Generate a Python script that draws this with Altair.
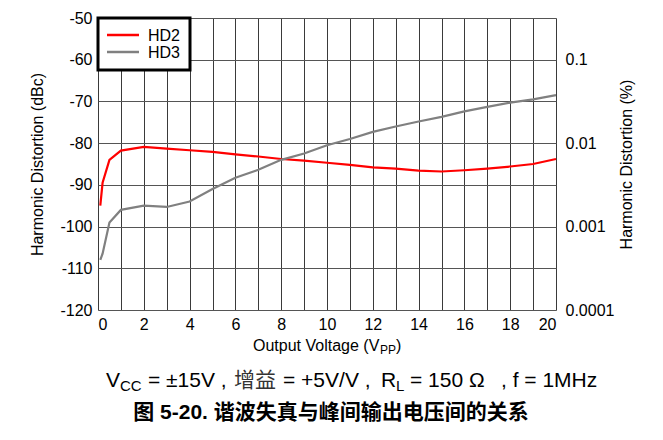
import altair as alt
import pandas as pd
import numpy as np

# ---- data ----
voltage = [0.1, 0.2, 0.5, 1, 2, 3, 4, 5, 6, 7, 8, 9, 10, 11, 12, 13, 14, 15, 16, 17, 18, 19, 20]
hd2 = [-95.0, -89.5, -84.0, -81.8, -80.9, -81.3, -81.7, -82.1, -82.7, -83.2, -83.8, -84.2,
       -84.7, -85.2, -85.8, -86.1, -86.6, -86.8, -86.5, -86.1, -85.6, -85.0, -83.8]
hd3 = [-108.0, -106.5, -99.0, -96.0, -95.0, -95.3, -94.0, -91.0, -88.3, -86.4, -84.0, -82.5,
       -80.5, -79.0, -77.3, -76.0, -74.8, -73.7, -72.4, -71.3, -70.3, -69.5, -68.5]
series = ["HD2", "HD3"]
colors = ["#ff0000", "#808080"]

x_ticks = list(range(0, 21))
y_ticks = list(range(-120, -49, 10))
pct_ticks = [0.0001, 0.001, 0.01, 0.1]
db_domain = [-120, -50]
pct_domain = [100 * 10 ** (db_domain[0] / 20), 100 * 10 ** (db_domain[1] / 20)]

LATIN = "Liberation Sans"
MIX = "Liberation Sans, Noto Sans CJK SC"

df = pd.DataFrame({
    "v": voltage * 2,
    "db": hd2 + hd3,
    "s": [series[0]] * len(voltage) + [series[1]] * len(voltage),
})
dummy = pd.DataFrame({"a": [0]})

lines = alt.Chart(df).mark_line(strokeWidth=2.2).encode(
    x=alt.X("v:Q", scale=alt.Scale(domain=[0, 20], nice=False),
            axis=alt.Axis(values=x_ticks, labelExpr="datum.value % 2 == 0 ? datum.label : ''",
                          title=None, grid=True, gridColor="#3a3a3a", gridWidth=1,
                          ticks=False, domain=False, labelFontSize=16, labelFont=LATIN,
                          labelColor="black", labelPadding=6)),
    y=alt.Y("db:Q", scale=alt.Scale(domain=db_domain, nice=False, zero=False),
            axis=alt.Axis(values=y_ticks, labelExpr="'' + datum.value",
                          title="Harmonic Distortion (dBc)", grid=True, gridColor="#555555",
                          gridWidth=1.2, ticks=False, domain=False, labelFontSize=16,
                          labelFont=LATIN, labelColor="black", labelPadding=6,
                          titleFont=LATIN, titleFontSize=16, titleFontWeight="normal",
                          titleColor="black", titleX=-61, titleY=146, titleAngle=270,
                          titleAlign="center", titleBaseline="middle")),
    color=alt.Color("s:N", scale=alt.Scale(domain=series, range=colors), legend=None),
    detail="s:N",
)

right = alt.Chart(pd.DataFrame({"pct": pct_ticks})).mark_point(opacity=0).encode(
    y=alt.Y("pct:Q", scale=alt.Scale(type="log", domain=pct_domain, nice=False),
            axis=alt.Axis(orient="right", values=pct_ticks, format=".4~f",
                          title="Harmonic Distortion (%)", grid=False, ticks=False,
                          domain=False, labelFontSize=16, labelFont=LATIN, labelColor="black",
                          labelPadding=9, titleFont=LATIN, titleFontSize=16,
                          titleFontWeight="normal", titleColor="black", titleX=70, titleY=146,
                          titleAngle=270, titleAlign="center", titleBaseline="middle")),
)

# legend box (drawn manually)
leg_box = alt.Chart(dummy).mark_rect(fill="white", stroke="black", strokeWidth=3).encode(
    x=alt.value(0), x2=alt.value(92), y=alt.value(0), y2=alt.value(52))
leg_layers = [leg_box]
for i, (name, col) in enumerate(zip(series, colors)):
    yy = 17 + 17 * i
    leg_layers.append(alt.Chart(dummy).mark_rule(color=col, strokeWidth=2.5).encode(
        x=alt.value(9), x2=alt.value(41), y=alt.value(yy)))
    leg_layers.append(alt.Chart(dummy).mark_text(text=name, align="left", baseline="middle",
                                                 fontSize=16, font=LATIN, color="black").encode(
        x=alt.value(50), y=alt.value(yy + 1)))


def txt(t, x, y, size=16, font=LATIN, weight="normal", align="left", baseline="alphabetic",
        color="black"):
    return alt.Chart(dummy).mark_text(text=t, align=align, baseline=baseline, fontSize=size,
                                      font=font, fontWeight=weight, color=color).encode(
        x=alt.value(x), y=alt.value(y))


OX, OY = 98, 18  # page position of plot origin
CAP_Y = 387
SUB_Y = 391
texts = [
    # x axis title with subscript
    txt("Output Voltage (V", 253 - OX, 351 - OY),
    txt("PP", 380 - OX, 354 - OY, size=12),
    txt(")", 396 - OX, 351 - OY),
    # condition caption
    txt("V", 106 - OX, CAP_Y - OY, size=21),
    txt("CC", 120 - OX, SUB_Y - OY, size=15),
    txt("= ±15V ,", 148 - OX, CAP_Y - OY, size=21),
    txt("增益", 234 - OX, CAP_Y - OY, size=21, font=MIX, color="#333333"),
    txt("= +5V/V ,", 283 - OX, CAP_Y - OY, size=21),
    txt("R", 381 - OX, CAP_Y - OY, size=21),
    txt("L", 396 - OX, SUB_Y - OY, size=15),
    txt("= 150 Ω", 410 - OX, CAP_Y - OY, size=21, font=MIX),
    txt(", f = 1MHz", 501 - OX, CAP_Y - OY, size=21),
    # figure title
    txt("图 5-20. 谐波失真与峰间输出电压间的关系", 331 - OX, 413 - OY, size=21,
        font=MIX, weight="bold", align="center", baseline="middle"),
]

chart = alt.layer(lines, *leg_layers, *texts, right).resolve_scale(y="independent").properties(
    width=458, height=292,
    padding={"left": 90, "top": 10, "right": 90, "bottom": 120},
    autosize=alt.AutoSizeParams(type="none"),
).configure_view(stroke="black", strokeWidth=3).configure(background="white")

chart.save("out.html", embed_options={"renderer": "svg", "actions": False})
